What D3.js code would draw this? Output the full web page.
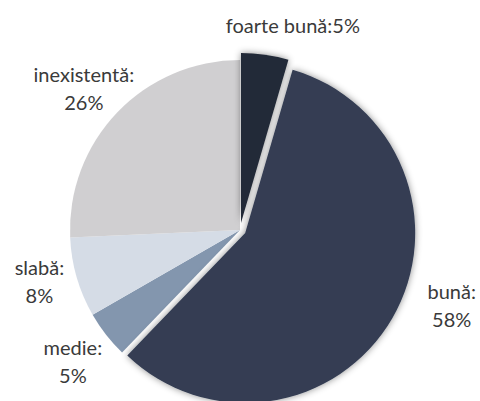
<!DOCTYPE html>
<html>
<head>
<meta charset="utf-8">
<script src="https://cdn.jsdelivr.net/npm/d3@7"></script>
<style>
  body { margin: 0; background: #fff; }
  svg { display: block; }
</style>
</head>
<body>
<div id="chart-area"></div>
<script>
// date (procente)
var categorii = ["foarte bună", "bună", "medie", "slabă", "inexistentă"];
var valori = [4.5, 57.7, 4.5, 7.6, 25.7];
var culori = ["#232a37", "#343e53", "#8396ae", "#d5dce6", "#d0cfd1"];

var width = 480, height = 401;
var cx = 240, cy = 230, radius = 170;

// felii detasate (px) si ajustari etichete
var explode = [7, 6, 0, 0, 0];
var labelR = 212;
var nudge = [[22, 13], [23, -33], [0, 2], [3, -7], [-3, 6]];

var svg = d3.select("#chart-area")
  .append("svg")
    .attr("width", width)
    .attr("height", height);

var defs = svg.append("defs");
var f = defs.append("filter").attr("id", "umbra")
    .attr("x", "-20%").attr("y", "-20%").attr("width", "140%").attr("height", "140%");
f.append("feDropShadow")
    .attr("dx", 0).attr("dy", 0)
    .attr("stdDeviation", 3.5)
    .attr("flood-color", "#000")
    .attr("flood-opacity", 0.45);

var pie = d3.pie().sort(null).value(d => d);
var arcs = pie(valori);

var arc = d3.arc().innerRadius(0).outerRadius(radius);
var labelArc = d3.arc().innerRadius(labelR).outerRadius(labelR);

var g = svg.append("g")
    .attr("transform", "translate(" + cx + "," + cy + ")");

function offset(d, i) {
  var a = (d.startAngle + d.endAngle) / 2;
  return [Math.sin(a) * explode[i], -Math.cos(a) * explode[i]];
}

// intai feliile nedetasate, apoi cele cu umbra
var order = [2, 3, 4, 1, 0];
order.forEach(function(i) {
  var d = arcs[i];
  var o = offset(d, i);
  g.append("path")
    .attr("d", arc(d))
    .attr("transform", "translate(" + o[0] + "," + o[1] + ")")
    .attr("fill", culori[i])
    .attr("filter", explode[i] > 0 ? "url(#umbra)" : null);
});

// etichete
arcs.forEach(function(d, i) {
  var o = offset(d, i);
  var c = labelArc.centroid(d);
  var x = c[0] + o[0] + nudge[i][0];
  var y = c[1] + o[1] + nudge[i][1];
  var pct = Math.round(d.data) + "%";
  var t = g.append("text")
    .attr("text-anchor", "middle")
    .attr("font-family", "Lato, 'Open Sans', sans-serif")
    .attr("font-size", 20)
    .attr("fill", "#3a3a3a");
  if (i === 0) {
    t.attr("x", x).attr("y", y).attr("dy", "0.35em")
      .text(categorii[i] + ":" + pct);
  } else {
    t.append("tspan").attr("x", x).attr("y", y).attr("dy", -7)
      .text(categorii[i] + ":");
    t.append("tspan").attr("x", x).attr("y", y).attr("dy", 21)
      .text(pct);
  }
});
</script>
</body>
</html>
